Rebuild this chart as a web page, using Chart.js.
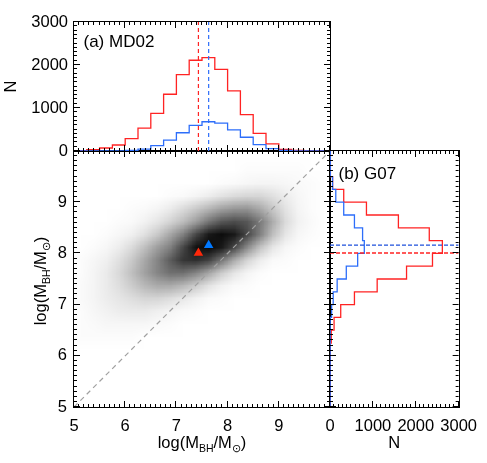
<!DOCTYPE html>
<html><head><meta charset="utf-8">
<script src="https://cdn.jsdelivr.net/npm/chart.js@4.4.1/dist/chart.umd.min.js"></script>
<style>
html,body{margin:0;padding:0;background:#fff;}
#wrap{position:relative;width:487px;height:463px;overflow:hidden;background:#fff;}
canvas{position:absolute;left:0;top:0;}
</style></head><body>
<div id="wrap">
<canvas id="cMain" width="487" height="463"></canvas>
<canvas id="cTop" width="487" height="463"></canvas>
<canvas id="cRight" width="487" height="463"></canvas>
</div>
<script>
// ---------------- data ----------------
const binEdges = [5.0,5.25,5.5,5.75,6.0,6.25,6.5,6.75,7.0,7.25,7.5,7.75,8.0,8.25,8.5,8.75,9.0,9.25,9.5,9.75,10.0];
// (a) MD02 histogram of log(M_BH/M_sun) along x
const md02Red  = [5,30,70,140,290,530,875,1320,1775,2110,2170,1900,1400,845,410,165,40,15,3,0];
const md02Blue = [0,0,0,0,15,45,125,255,425,595,680,650,490,320,150,55,15,0,0,0];
// (b) G07 histogram along y (bins in ascending order)
const g07Red   = [0,0,0,3,8,30,95,250,570,1100,1785,2390,2620,2315,1595,850,320,60,18,5];
const g07Blue  = [0,0,0,2,3,5,15,38,75,167,380,645,800,760,570,320,135,60,15,3];
// medians [MD02 (x), G07 (y)]
const medianRed  = [7.43, 8.01];
const medianBlue = [7.63, 8.16];
const diagLine = [5, 10];
const massRange = [5, 10];
const countRange = [0, 3000];
// 2-D density (darkness in %), rows from top (y=9.75-10) to bottom (y=5-5.25), columns x=5..10 in 0.25 bins
const densityRows = [
 [0,0,0,0,0,0,0,0,0,0,0,0,0,0,0,0,0,0,0,0],
 [0,0,0,0,0,0,0,0,0,0,0,0,0,1,1,1,1,1,0,0],
 [0,0,0,0,0,0,0,0,0,0,0,1,2,3,4,4,3,2,1,0],
 [0,0,0,0,0,0,0,1,2,4,7,11,14,16,16,12,7,3,1,0],
 [0,0,0,0,1,2,4,8,14,21,29,37,41,42,34,22,11,4,1,0],
 [0,0,0,1,2,5,10,17,26,38,54,66,70,66,52,32,14,5,2,0],
 [0,0,1,3,6,12,21,35,50,72,90,95,90,72,50,25,10,3,1,0],
 [0,1,3,7,14,25,38,50,72,93,97,90,72,46,24,10,3,1,0,0],
 [1,3,6,12,21,34,48,64,79,82,74,54,33,17,7,2,1,0,0,0],
 [1,4,8,15,25,37,48,56,56,48,35,20,10,4,1,0,0,0,0,0],
 [2,4,8,13,20,28,33,33,28,20,11,5,2,1,0,0,0,0,0,0],
 [2,4,7,10,13,16,16,13,9,5,2,1,0,0,0,0,0,0,0,0],
 [1,3,5,7,8,8,6,4,2,1,0,0,0,0,0,0,0,0,0,0],
 [1,2,3,3,3,3,2,1,0,0,0,0,0,0,0,0,0,0,0,0],
 [1,1,1,1,1,0,0,0,0,0,0,0,0,0,0,0,0,0,0,0],
 [0,0,0,0,0,0,0,0,0,0,0,0,0,0,0,0,0,0,0,0],
 [0,0,0,0,0,0,0,0,0,0,0,0,0,0,0,0,0,0,0,0],
 [0,0,0,0,0,0,0,0,0,0,0,0,0,0,0,0,0,0,0,0],
 [0,0,0,0,0,0,0,0,0,0,0,0,0,0,0,0,0,0,0,0],
 [0,0,0,0,0,0,0,0,0,0,0,0,0,0,0,0,0,0,0,0]
];

// ---------------- styling ----------------
const FAM = '"Liberation Sans", Arial, Helvetica, sans-serif';
const RED = 'rgb(255,35,35)';
const BLUE = 'rgb(45,110,250)';
const tickFont = {family: FAM, size: 16.5};
Chart.defaults.font.family = FAM;
Chart.defaults.color = '#000';
const plainLabel = v => String(v);

function stepPts(edges, counts, alongX) {
  const pts = [];
  for (let i = 0; i < counts.length; i++) {
    if (alongX) { pts.push({x: edges[i], y: counts[i]}); pts.push({x: edges[i+1], y: counts[i]}); }
    else { pts.push({x: counts[i], y: edges[i]}); pts.push({x: counts[i], y: edges[i+1]}); }
  }
  return pts;
}
function lineDs(data, color, dash, width) {
  return {type: 'scatter', data, showLine: true, borderColor: color, backgroundColor: color,
    borderWidth: width || 1.3, borderDash: dash || [], pointRadius: 0, tension: 0, fill: false};
}
function boxTicks(spec) {
  return {
    id: 'boxTicks',
    afterDatasetsDraw(chart) {
      const {ctx, chartArea: a} = chart;
      ctx.save();
      ctx.strokeStyle = '#000'; ctx.lineWidth = 1;
      ctx.strokeRect(Math.round(a.left) - 0.5, Math.round(a.top) - 0.5, Math.round(a.right - a.left) + 1, Math.round(a.bottom - a.top) + 1);
      ['x', 'y'].forEach(ax => {
        const s = spec[ax], sc = chart.scales[ax];
        const n = Math.round((s.max - s.min) / s.minor);
        const per = Math.round(s.major / s.minor);
        for (let k = 0; k <= n; k++) {
          const v = s.min + k * s.minor;
          const len = (k % per === 0) ? 6 : 3;
          const p = Math.round(sc.getPixelForValue(v)) - 0.5;
          ctx.beginPath();
          if (ax === 'x') {
            ctx.moveTo(p, a.bottom); ctx.lineTo(p, a.bottom - len);
            ctx.moveTo(p, a.top); ctx.lineTo(p, a.top + len);
          } else {
            ctx.moveTo(a.left, p); ctx.lineTo(a.left + len, p);
            ctx.moveTo(a.right, p); ctx.lineTo(a.right - len, p);
          }
          ctx.stroke();
        }
      });
      ctx.restore();
    }
  };
}
function drawRich(ctx, parts, cx, cy, rot) {
  ctx.save(); ctx.translate(cx, cy); ctx.rotate(rot || 0);
  ctx.fillStyle = '#000'; ctx.textBaseline = 'alphabetic'; ctx.textAlign = 'left';
  let total = 0;
  parts.forEach(p => { ctx.font = p.size + 'px ' + FAM; p.w = ctx.measureText(p.t).width; total += p.w; });
  let x = -total / 2;
  parts.forEach(p => { ctx.font = p.size + 'px ' + FAM; ctx.fillText(p.t, x, p.dy || 0); x += p.w; });
  ctx.restore();
}
const massTitle = () => [
  {t: 'log(M', size: 16.5}, {t: 'BH', size: 10.5, dy: 3.5}, {t: '/M', size: 16.5},
  {t: '\u2299', size: 10.5, dy: 3.5}, {t: ')', size: 16.5}
];
function hiddenGrid() { return {display: false, drawTicks: false, tickLength: 0}; }
function textPlugin(id, txt, dx, dy) {
  return {id, afterDraw(chart) {
    const {ctx, chartArea: a} = chart;
    ctx.save(); ctx.fillStyle = '#000'; ctx.font = '17px ' + FAM; ctx.textBaseline = 'alphabetic';
    ctx.fillText(txt, a.left + dx, a.top + dy); ctx.restore();
  }};
}

// ---------------- main density panel ----------------
const densityPlugin = {
  id: 'density',
  beforeDatasetsDraw(chart) {
    const {ctx, scales: {x, y}, chartArea: a} = chart;
    const ny = densityRows.length, nx = densityRows[0].length;
    const off = document.createElement('canvas');
    off.width = nx; off.height = ny;
    const oc = off.getContext('2d');
    const img = oc.createImageData(nx, ny);
    for (let r = 0; r < ny; r++) for (let c = 0; c < nx; c++) {
      const g = Math.round(255 * (1 - densityRows[r][c] / 100));
      const i = (r * nx + c) * 4;
      img.data[i] = g; img.data[i+1] = g; img.data[i+2] = g; img.data[i+3] = 255;
    }
    oc.putImageData(img, 0, 0);
    const x0 = x.getPixelForValue(binEdges[0]), x1 = x.getPixelForValue(binEdges[nx]);
    const yTop = y.getPixelForValue(binEdges[ny]), yBot = y.getPixelForValue(binEdges[0]);
    ctx.save();
    ctx.beginPath(); ctx.rect(a.left, a.top, a.right - a.left, a.bottom - a.top); ctx.clip();
    ctx.imageSmoothingEnabled = true; ctx.imageSmoothingQuality = 'low';
    ctx.drawImage(off, x0, yTop, x1 - x0, yBot - yTop);
    ctx.restore();
  }
};
const mainTitles = {
  id: 'mainTitles',
  afterDraw(chart) {
    const {ctx, chartArea: a} = chart;
    drawRich(ctx, massTitle(), (a.left + a.right) / 2, a.bottom + 41, 0);
    drawRich(ctx, massTitle(), a.left - 28, (a.top + a.bottom) / 2 + 2, -Math.PI / 2);
  }
};

new Chart(document.getElementById('cMain'), {
  type: 'scatter',
  data: {datasets: [
    {data: [{x: medianRed[0], y: medianRed[1]}], pointStyle: 'triangle', pointRadius: 5.5,
     backgroundColor: 'rgb(255,40,10)', borderColor: 'rgb(255,40,10)', borderWidth: 0},
    {data: [{x: medianBlue[0], y: medianBlue[1]}], pointStyle: 'triangle', pointRadius: 5.5,
     backgroundColor: 'rgb(0,120,255)', borderColor: 'rgb(0,120,255)', borderWidth: 0},
    lineDs([{x: diagLine[0], y: diagLine[0]}, {x: diagLine[1], y: diagLine[1]}], 'rgb(160,160,160)', [5, 4], 1.2)
  ]},
  options: {
    responsive: false, animation: false, events: [],
    layout: {padding: {left: 0, top: 151, right: 157, bottom: 0}},
    plugins: {legend: {display: false}, tooltip: {enabled: false}},
    scales: {
      x: {type: 'linear', min: massRange[0], max: massRange[1], grid: hiddenGrid(), border: {display: false},
          afterFit(s) { s.height = 56; },
          ticks: {stepSize: 1, padding: 10, font: tickFont, color: '#000', autoSkip: false, maxRotation: 0,
                  callback: v => (v === massRange[1] ? '' : String(v))}},
      y: {type: 'linear', min: massRange[0], max: massRange[1], grid: hiddenGrid(), border: {display: false},
          afterFit(s) { s.width = 74; },
          ticks: {stepSize: 1, padding: 7, font: tickFont, color: '#000', autoSkip: false,
                  callback: v => (v === massRange[1] ? '' : String(v))}}
    }
  },
  plugins: [densityPlugin, boxTicks({x: {min: 5, max: 10, major: 1, minor: 0.1}, y: {min: 5, max: 10, major: 1, minor: 0.1}}), mainTitles]
});

// ---------------- top panel (a) MD02 ----------------
new Chart(document.getElementById('cTop'), {
  type: 'scatter',
  data: {datasets: [
    lineDs([{x: medianBlue[0], y: countRange[0]}, {x: medianBlue[0], y: countRange[1]}], BLUE, [4, 3], 1.2),
    lineDs([{x: medianRed[0], y: countRange[0]}, {x: medianRed[0], y: countRange[1]}], RED, [4, 3], 1.2),
    lineDs(stepPts(binEdges, md02Blue, true), BLUE),
    lineDs(stepPts(binEdges, md02Red, true), RED)
  ]},
  options: {
    responsive: false, animation: false, events: [],
    layout: {padding: {left: 0, top: 22, right: 157, bottom: 312}},
    plugins: {legend: {display: false}, tooltip: {enabled: false}},
    scales: {
      x: {type: 'linear', min: massRange[0], max: massRange[1], grid: hiddenGrid(), border: {display: false},
          afterFit(s) { s.height = 0; }, ticks: {display: false}},
      y: {type: 'linear', min: countRange[0], max: countRange[1], grid: hiddenGrid(), border: {display: false},
          afterFit(s) { s.width = 74; },
          title: {display: true, text: 'N', font: {family: FAM, size: 16.5}, color: '#000', padding: {top: 2, bottom: 0}},
          ticks: {stepSize: 1000, padding: 6, font: tickFont, color: '#000', autoSkip: false, callback: plainLabel}}
    }
  },
  plugins: [boxTicks({x: {min: 5, max: 10, major: 1, minor: 0.1}, y: {min: 0, max: 3000, major: 1000, minor: 100}}),
            textPlugin('lblA', '(a) MD02', 9.5, 24.5)]
});

// ---------------- right panel (b) G07 ----------------
new Chart(document.getElementById('cRight'), {
  type: 'scatter',
  data: {datasets: [
    lineDs([{x: countRange[0], y: medianBlue[1]}, {x: countRange[1], y: medianBlue[1]}], 'rgb(30,80,220)', [4, 2], 1.2),
    lineDs([{x: countRange[0], y: medianRed[1]}, {x: countRange[1], y: medianRed[1]}], RED, [4, 2], 1.5),
    lineDs(stepPts(binEdges, g07Blue, false), BLUE),
    lineDs(stepPts(binEdges, g07Red, false), RED)
  ]},
  options: {
    responsive: false, animation: false, events: [],
    layout: {padding: {left: 330, top: 151, right: 25, bottom: 0}},
    plugins: {legend: {display: false}, tooltip: {enabled: false}},
    scales: {
      x: {type: 'linear', min: countRange[0], max: countRange[1], grid: hiddenGrid(), border: {display: false},
          afterFit(s) { s.height = 56; },
          title: {display: true, text: 'N', font: {family: FAM, size: 16.5}, color: '#000', padding: {top: 0, bottom: 10}},
          ticks: {stepSize: 1000, padding: 10, font: tickFont, color: '#000', autoSkip: false, maxRotation: 0, callback: plainLabel}},
      y: {type: 'linear', min: massRange[0], max: massRange[1], grid: hiddenGrid(), border: {display: false},
          afterFit(s) { s.width = 0; }, ticks: {display: false}}
    }
  },
  plugins: [boxTicks({x: {min: 0, max: 3000, major: 1000, minor: 100}, y: {min: 5, max: 10, major: 1, minor: 0.1}}),
            textPlugin('lblB', '(b) G07', 8.5, 28)]
});
</script>
</body></html>
